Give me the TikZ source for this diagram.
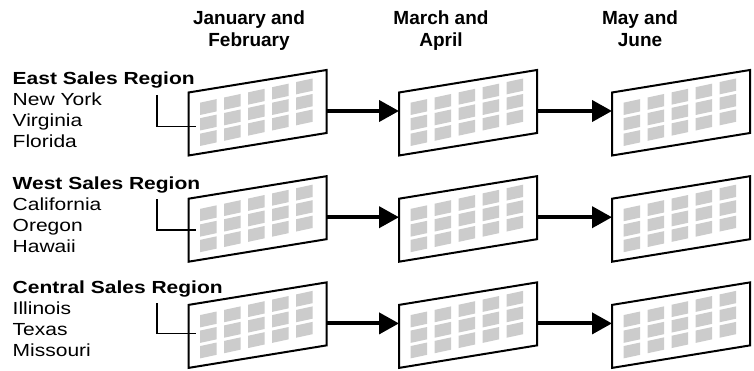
\documentclass[tikz,border=0pt]{standalone}
\usepackage{fontspec}
\setmainfont{Liberation Sans}
\newfontfamily\labelfont[FakeStretch=1.2]{Liberation Sans}
\usetikzlibrary{arrows.meta}
\definecolor{cellgray}{RGB}{204,204,204}

\tikzset{
  % one spreadsheet page: slanted frame with a 5x3 grid of cells
  sheet/.pic={
    \fill[white] (0,0) -- (138,-22.5) -- (138,40.5) -- (0,63) -- cycle;
    \foreach \i in {0,...,4}{
      \foreach \j in {0,1,2}{
        \fill[cellgray] ({11.5+24*\i},{10.2-5.16*\i+15.5*\j})
          -- ++(16.7,-3.6) -- ++(0,12.3) -- ++(-16.7,3.6) -- cycle;
      }
    }
    \draw[line width=2pt, line join=miter] (0,0) -- (138,-22.5) -- (138,40.5) -- (0,63) -- cycle;
    \coordinate (-in) at (0,18.5);
    \coordinate (-out) at (138,18.5);
  },
  flow/.style={line width=4pt, -{Triangle[length=20pt,width=21pt]}},
  bracket/.style={line width=1.1pt},
  header/.style={inner sep=0pt, anchor=base, font=\bfseries\fontsize{19}{22}\selectfont},
  region/.style={inner sep=0pt, anchor=base west, font=\labelfont\bfseries\fontsize{17.5}{21}\selectfont},
  member/.style={inner sep=0pt, anchor=base west, font=\labelfont\fontsize{17.5}{21}\selectfont},
}

\begin{document}
\begin{tikzpicture}[x=1pt, y=-1pt]
  \fill[white] (0,0) rectangle (754,371);
  \useasboundingbox (0,0) rectangle (754,371);

  % column headers
  \node[header] (h1a) at (249,25) {January and};
  \node[header] (h1b) at (249,47) {February};
  \node[header] (h2a) at (441,25) {March and};
  \node[header] (h2b) at (441,47) {April};
  \node[header] (h3a) at (640,25) {May and};
  \node[header] (h3b) at (640,47) {June};

  % the three sheets of each region
  \foreach \r in {0,1,2}{
    \pic (s\r a) at (188.5,{92.5+106.2*\r}) {sheet};
    \pic (s\r b) at (399,{92.5+106.2*\r}) {sheet};
    \pic (s\r c) at (612,{92.5+106.2*\r}) {sheet};
  }

  % region names and their states
  \foreach \r/\t/\p/\q/\s in {0/East/New York/Virginia/Florida,
                              1/West/California/Oregon/Hawaii,
                              2/Central/Illinois/Texas/Missouri}{
    \node[region] (t\r) at (12.5,{85+104.2*\r}) {\t\ Sales Region};
    \node[member] (m\r a) at (12.5,{106+104.2*\r}) {\p};
    \node[member] (m\r b) at (12.5,{127+104.2*\r}) {\q};
    \node[member] (m\r c) at (12.5,{148+104.2*\r}) {\s};
    \coordinate (k\r) at (157,{95+104.2*\r});
    \coordinate (e\r) at (195.5,{126.7+103.3*\r});
  }

  % brackets from the state lists into the first sheet
  \foreach \r in {0,1,2}{
    \draw[bracket] (k\r) |- (e\r);
  }

  % flow from one two-month period to the next
  \foreach \r in {0,1,2}{
    \draw[flow] (s\r a-out) -- (s\r b-in);
    \draw[flow] (s\r b-out) -- (s\r c-in);
  }
\end{tikzpicture}
\end{document}
